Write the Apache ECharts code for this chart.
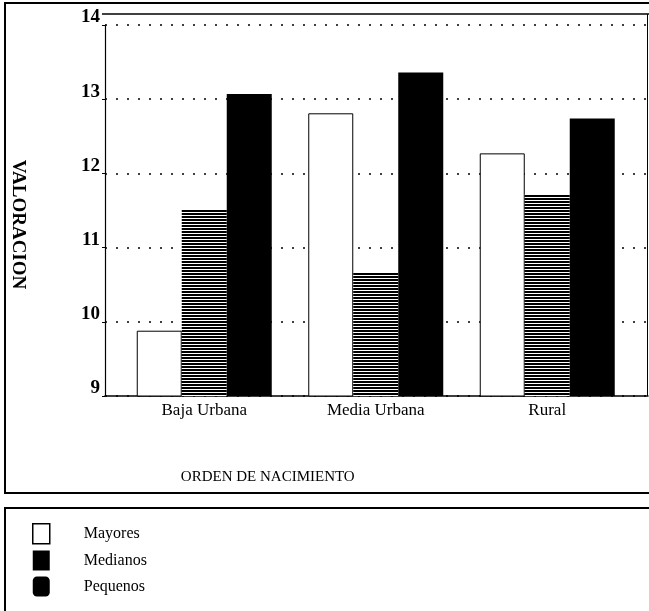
<!DOCTYPE html>
<html><head><meta charset="utf-8">
<script src="https://cdn.jsdelivr.net/npm/echarts@6/dist/echarts.min.js"></script>
<style>html,body{margin:0;padding:0;background:#fff}#c{width:649px;height:611px}</style>
</head><body><div id="c"></div>
<script>
const categories = ['Baja Urbana', 'Media Urbana', 'Rural'];
const seriesNames = ['Mayores', 'Medianos', 'Pequenos'];
const mayores = [9.88, 12.81, 12.27];
const medianos = [11.51, 10.66, 11.72];
const pequenos = [13.07, 13.36, 12.74];
const yTicks = [9, 10, 11, 12, 13, 14];
const yName = 'VALORACION';
const xName = 'ORDEN DE NACIMIENTO';

const FONT = "'Liberation Serif', serif";

// horizontal hatch for Medianos
const pc = document.createElement('canvas');
pc.width = 8; pc.height = 3;
const pctx = pc.getContext('2d');
pctx.fillStyle = '#000'; pctx.fillRect(0, 0, 8, 3);
pctx.fillStyle = '#fff'; pctx.fillRect(0, 2, 8, 1);
const hatch = { image: pc, repeat: 'repeat' };

const yMin = yTicks[0], yMax = yTicks[yTicks.length - 1], yInt = yTicks[1] - yTicks[0];
const chart = echarts.init(document.getElementById('c'), null, { renderer: 'canvas' });

const gridTop = 25, gridBottom = 611 - 396;

chart.setOption({
  backgroundColor: '#fff',
  animation: false,
  grid: [
    { left: 102, right: 1, top: gridTop, bottom: gridBottom },
    { left: 118.5, right: 16, top: gridTop, bottom: gridBottom }
  ],
  xAxis: [
    { gridIndex: 0, type: 'value', min: 0, max: 1,
      axisLine: { show: true, lineStyle: { color: '#000', width: 1.5 } },
      axisTick: { show: false }, axisLabel: { show: false }, splitLine: { show: false } },
    { gridIndex: 1, type: 'category', data: categories,
      axisLine: { show: false }, axisTick: { show: false },
      axisLabel: { color: '#000', fontFamily: FONT, fontSize: 17, margin: 6 },
      name: xName, nameLocation: 'middle', nameGap: 74,
      nameTextStyle: { color: '#000', fontFamily: FONT, fontSize: 15, padding: [0, 216, 0, 0] } }
  ],
  yAxis: [
    { gridIndex: 0, type: 'value', min: yMin, max: yMax, interval: yInt,
      axisLine: { show: true, lineStyle: { color: '#000', width: 1.2 } },
      axisTick: { show: true, length: 3, lineStyle: { color: '#000' } },
      axisLabel: { color: '#000', fontFamily: FONT, fontSize: 19, fontWeight: 'bold', margin: 5,
                   verticalAlign: 'bottom', lineHeight: 15 },
      splitLine: { show: true, lineStyle: { color: '#000', width: 1.5, type: [2, 9] } },
      name: yName, nameLocation: 'middle', nameRotate: -90, nameGap: 78,
      nameTextStyle: { color: '#000', fontFamily: FONT, fontSize: 19, fontWeight: 'bold', padding: [0, 0, 0, 28] } },
    { gridIndex: 1, type: 'value', min: yMin, max: yMax, interval: yInt, show: false,
      splitLine: { show: false } }
  ],
  legend: {
    orient: 'vertical', left: 27, top: 518, itemWidth: 17, itemHeight: 20, itemGap: 6,
    textStyle: { color: '#000', fontFamily: FONT, fontSize: 16, padding: [0, 0, 0, 29] },
    data: [
      { name: seriesNames[0], icon: 'rect', itemStyle: { color: '#fff', borderColor: '#000', borderWidth: 1.5 } },
      { name: seriesNames[1], icon: 'rect', itemStyle: { color: '#000' } },
      { name: seriesNames[2], icon: 'roundRect', itemStyle: { color: '#000' } }
    ]
  },
  graphic: [
    { type: 'rect', shape: { x: 5, y: 3, width: 700, height: 490 }, style: { fill: null, stroke: '#000', lineWidth: 2 }, silent: true, z: -1 },
    { type: 'rect', shape: { x: 5, y: 508, width: 700, height: 200 }, style: { fill: null, stroke: '#000', lineWidth: 2 }, silent: true, z: -1 },
    { type: 'line', shape: { x1: 102, y1: 14, x2: 649, y2: 14 }, style: { stroke: '#000', lineWidth: 1.5 }, silent: true },
    { type: 'line', shape: { x1: 647.5, y1: 14, x2: 647.5, y2: 396 }, style: { stroke: '#000', lineWidth: 1 }, silent: true }
  ],
  series: [
    { name: seriesNames[0], type: 'bar', xAxisIndex: 1, yAxisIndex: 1, data: mayores,
      barWidth: 45, barGap: '0%',
      itemStyle: { color: '#fff', borderColor: '#000', borderWidth: 1 } },
    { name: seriesNames[1], type: 'bar', xAxisIndex: 1, yAxisIndex: 1, data: medianos,
      barWidth: 45, barGap: '0%',
      itemStyle: { color: hatch } },
    { name: seriesNames[2], type: 'bar', xAxisIndex: 1, yAxisIndex: 1, data: pequenos,
      barWidth: 45, barGap: '0%',
      itemStyle: { color: '#000' } }
  ]
});
</script>
</body></html>
